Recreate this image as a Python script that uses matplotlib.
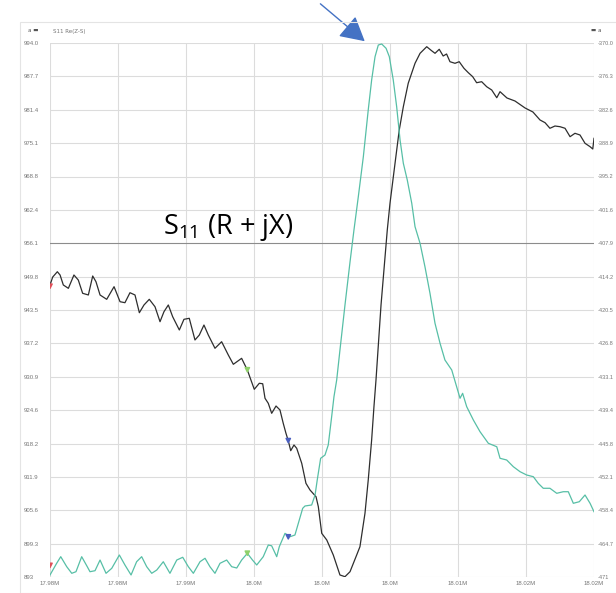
import numpy as np
import matplotlib
matplotlib.use('Agg')
import matplotlib.pyplot as plt
from matplotlib.patches import Rectangle

plt.rcParams['mathtext.fontset'] = 'custom'
plt.rcParams['mathtext.rm'] = 'Open Sans'

# frequency (MHz) / resistance trace (black, left axis)
r_freq = [17.98000, 17.98020, 17.98054, 17.98074, 17.98098, 17.98135, 17.98176, 17.98208,
          17.98240, 17.98282, 17.98314, 17.98338, 17.98368, 17.98417, 17.98471, 17.98515,
          17.98551, 17.98588, 17.98625, 17.98657, 17.98691, 17.98730, 17.98772, 17.98809,
          17.98838, 17.98870, 17.98902, 17.98951, 17.98985, 17.99024, 17.99066, 17.99098,
          17.99132, 17.99164, 17.99213, 17.99262, 17.99311, 17.99348, 17.99409, 17.99451,
          17.99502, 17.99539, 17.99564, 17.99581, 17.99605, 17.99630, 17.99662, 17.99691,
          17.99715, 17.99735, 17.99752, 17.99770, 17.99794, 17.99814, 17.99851, 17.99882,
          17.99912, 17.99956, 17.99973, 17.99998, 18.00035, 18.00083, 18.00132, 18.00169,
          18.00206, 18.00255, 18.00279, 18.00316, 18.00340, 18.00365, 18.00382, 18.00397,
          18.00434, 18.00480, 18.00500, 18.00537, 18.00568, 18.00598, 18.00634, 18.00684,
          18.00721, 18.00770, 18.00806, 18.00831, 18.00862, 18.00891, 18.00916, 18.00941,
          18.00978, 18.01009, 18.01044, 18.01076, 18.01108, 18.01137, 18.01174, 18.01211,
          18.01248, 18.01285, 18.01309, 18.01360, 18.01419, 18.01493, 18.01551, 18.01603,
          18.01640, 18.01676, 18.01713, 18.01750, 18.01787, 18.01824, 18.01860, 18.01897,
          18.01934, 18.01971, 18.01991, 18.02000]
r_vals = [948.23, 949.74, 950.74, 950.12, 948.23, 947.60, 950.12, 949.17,
          946.66, 946.34, 949.93, 948.85, 946.34, 945.52, 947.91, 945.07,
          944.88, 946.77, 946.34, 942.99, 944.45, 945.52, 944.12, 941.29,
          943.18, 944.45, 942.23, 939.72, 941.74, 941.93, 937.83, 938.77,
          940.66, 938.77, 936.26, 937.50, 934.99, 933.23, 934.36, 932.15,
          928.50, 929.64, 929.55, 926.80, 925.85, 923.96, 925.34, 924.59,
          922.07, 920.18, 918.78, 916.89, 917.97, 917.34, 914.50, 910.72,
          909.45, 908.19, 906.30, 901.26, 900.00, 897.16, 893.38, 893.06,
          894.00, 897.16, 898.73, 905.05, 911.35, 918.91, 925.21, 930.26,
          944.45, 958.63, 963.68, 971.25, 977.54, 981.95, 986.38, 990.16,
          992.05, 993.30, 992.54, 992.05, 992.81, 991.54, 991.92, 990.46,
          990.16, 990.46, 989.21, 988.38, 987.63, 986.49, 986.68, 985.73,
          985.11, 983.65, 984.79, 983.60, 983.03, 981.71, 980.95, 979.44,
          978.93, 977.87, 978.30, 978.17, 977.87, 976.28, 976.92, 976.60,
          975.03, 974.39, 973.95, 975.97]

# frequency (MHz) / reactance trace (teal, right axis)
x_freq = [17.98000, 17.98049, 17.98079, 17.98123, 17.98160, 17.98191, 17.98233, 17.98274,
          17.98294, 17.98331, 17.98368, 17.98412, 17.98454, 17.98510, 17.98551, 17.98596,
          17.98637, 17.98674, 17.98711, 17.98748, 17.98785, 17.98833, 17.98882, 17.98932,
          17.98976, 17.99017, 17.99054, 17.99103, 17.99140, 17.99176, 17.99213, 17.99250,
          17.99299, 17.99336, 17.99373, 17.99409, 17.99451, 17.99489, 17.99520, 17.99568,
          17.99605, 17.99630, 17.99667, 17.99686, 17.99728, 17.99765, 17.99801, 17.99826,
          17.99858, 17.99875, 17.99924, 17.99949, 17.99965, 17.99990, 18.00022, 18.00046,
          18.00071, 18.00088, 18.00108, 18.00132, 18.00169, 18.00206, 18.00235, 18.00267,
          18.00304, 18.00340, 18.00365, 18.00390, 18.00414, 18.00439, 18.00471, 18.00495,
          18.00524, 18.00549, 18.00574, 18.00598, 18.00627, 18.00660, 18.00684, 18.00721,
          18.00757, 18.00794, 18.00831, 18.00868, 18.00904, 18.00954, 18.00990, 18.01015,
          18.01034, 18.01064, 18.01113, 18.01162, 18.01223, 18.01285, 18.01309, 18.01358,
          18.01407, 18.01456, 18.01505, 18.01554, 18.01590, 18.01627, 18.01676, 18.01726,
          18.01774, 18.01811, 18.01848, 18.01892, 18.01934, 18.01971, 18.02000]
x_vals = [-470.62, -468.41, -467.16, -469.05, -470.30, -470.00, -467.16, -469.05,
          -470.00, -469.81, -467.79, -470.30, -469.36, -466.84, -468.73, -470.62,
          -468.11, -467.16, -469.05, -470.30, -469.68, -468.11, -470.30, -467.79,
          -467.27, -469.05, -470.30, -468.11, -467.46, -469.05, -470.30, -468.41,
          -467.79, -469.05, -469.30, -467.80, -466.52, -467.79, -468.73, -467.16,
          -464.95, -465.10, -467.16, -465.27, -462.74, -463.38, -463.06, -460.84,
          -458.01, -457.57, -457.38, -455.49, -452.65, -448.55, -447.93, -446.03,
          -440.68, -436.90, -433.74, -428.07, -419.55, -411.42, -405.37, -399.07,
          -391.50, -382.67, -377.00, -372.59, -370.38, -370.19, -371.00, -372.59,
          -377.00, -382.05, -388.35, -392.75, -395.91, -400.32, -404.74, -407.89,
          -412.31, -417.34, -423.02, -426.80, -429.96, -431.85, -435.01, -437.20,
          -436.26, -438.79, -441.31, -443.52, -445.71, -446.36, -448.55, -448.87,
          -450.14, -451.08, -451.71, -452.03, -453.28, -454.22, -454.22, -455.17,
          -454.87, -454.87, -457.06, -456.76, -455.49, -457.06, -458.65]

# markers (freq, R, X)
mk_freq = [17.98000, 17.99451, 17.99752]
mk_r = [948.0, 932.2, 918.8]
mk_x = [-468.8, -466.5, -463.4]
mk_colors = ['#e0505a', '#8fd16a', '#4a5fc0']

x_ticks = [17.980, 17.985, 17.990, 17.995, 18.000, 18.005, 18.010, 18.015, 18.020]
x_labels = ['17.98M', '17.98M', '17.99M', '18.0M', '18.0M', '18.0M', '18.01M', '18.02M', '18.02M']
r_lim = (893.0, 994.0)
x_lim = (-471.0, -370.0)

fig = plt.figure(figsize=(6.16, 5.93), dpi=100)
fig.patches.append(Rectangle((20 / 616, 0), 1.0, 1 - 22 / 593, transform=fig.transFigure,
                             facecolor='none', edgecolor='#e4e4e4', lw=0.8))
ax = fig.add_axes([50 / 616, 16 / 593, 544 / 616, 534 / 593])
ax2 = ax.twinx()

grid_col = '#dcdcdc'
r_ticks = np.linspace(r_lim[0], r_lim[1], 17)
x_ticks_r = np.linspace(x_lim[0], x_lim[1], 17)
for t in x_ticks:
    ax.axvline(t, color=grid_col, lw=0.8, zorder=0)
for i, t in enumerate(r_ticks):
    ax.axhline(t, color='#8c8c8c' if i == 10 else grid_col, lw=0.8, zorder=0)

ax.plot(r_freq, r_vals, color='#2e2e2e', lw=0.9)
ax2.plot(x_freq, x_vals, color='#57bfa6', lw=0.9)
ax.scatter(mk_freq, mk_r, marker='v', s=10, c=mk_colors, zorder=5)
ax2.scatter(mk_freq, mk_x, marker='v', s=10, c=mk_colors, zorder=5)

ax.set_xlim(x_ticks[0], x_ticks[-1])
ax.set_ylim(*r_lim)
ax2.set_ylim(*x_lim)
ax.set_xticks(x_ticks)
ax.set_xticklabels(x_labels)
ax.set_yticks(r_ticks)
ax.set_yticklabels(['%.1f' % v if i > 0 else '%g' % v for i, v in enumerate(r_ticks)])
ax2.set_yticks(x_ticks_r)
ax2.set_yticklabels(['%.1f' % v if i > 0 else '%g' % v for i, v in enumerate(x_ticks_r)])

for a in (ax, ax2):
    for s in a.spines.values():
        s.set_visible(False)
tick_font = 'Liberation Sans'
ax.tick_params(axis='x', length=0, pad=3, labelsize=4.3, labelcolor='#777777')
ax.tick_params(axis='y', length=0, pad=19, labelsize=4.3, labelcolor='#777777')
ax2.tick_params(axis='y', length=0, pad=3, labelsize=4.0, labelcolor='#777777')
for lab in ax.get_yticklabels():
    lab.set_horizontalalignment('left')
for lab in ax.get_xticklabels() + ax.get_yticklabels() + ax2.get_yticklabels():
    lab.set_family(tick_font)

fig.text(28 / 616, 1 - 31 / 593, 'a \u25ac', fontsize=4, color='#555555', va='center')
fig.text(53 / 616, 1 - 31 / 593, 'S11 Re(Z-S)', fontsize=4, color='#777777', va='center')
fig.text(591 / 616, 1 - 30 / 593, '\u25ac a', fontsize=4, color='#555555', va='center')

ax.text(0.2077, 0.6536, r'S$_{\mathregular{11}}$ (R + jX)', transform=ax.transAxes,
        fontsize=19.5, family='Open Sans', va='center', ha='left', color='black')

ax2.annotate('', xy=(18.0033, -370.0), xytext=(-35, 29.5), textcoords='offset points',
             arrowprops=dict(arrowstyle='-|>,head_length=1.0,head_width=0.55',
                             color='#4472c4', lw=1.0, mutation_scale=15),
             annotation_clip=False)

fig.savefig('out.png', dpi=100)
